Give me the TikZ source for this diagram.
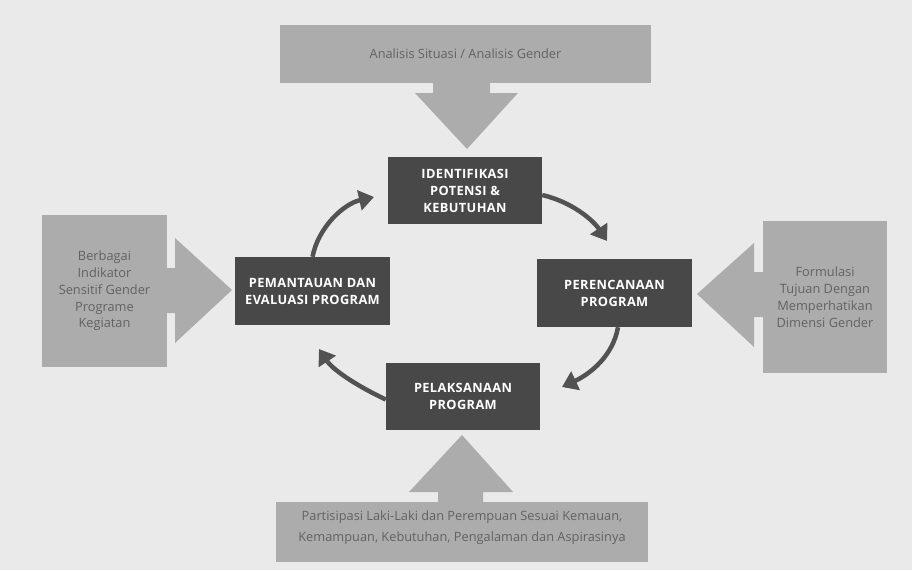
\documentclass[tikz,border=0pt]{standalone}
\usepackage{fontspec}
\setmainfont{Open Sans}
\newfontfamily\boxfont[LetterSpace=3]{Open Sans Bold}
\usetikzlibrary{arrows.meta}
\definecolor{bgc}{RGB}{234,234,234}
\definecolor{lgc}{RGB}{172,172,172}
\definecolor{dkc}{RGB}{72,72,72}
\definecolor{txc}{RGB}{98,98,98}
\definecolor{arc}{RGB}{82,82,82}
\tikzset{
  graybox/.style={fill=lgc, draw=none, text=txc, align=center, inner sep=0pt, font=\fontsize{12.8}{16.8}\selectfont},
  darkbox/.style={fill=dkc, draw=none, text=white, align=center, inner sep=0pt, font=\boxfont\fontsize{12.8}{17}\selectfont},
  blockarrow/.style={fill=lgc, draw=none},
  cyc/.style={draw=arc, line width=4.5pt, -{Triangle[width=20pt,length=15pt]}}
}
\begin{document}
\begin{tikzpicture}[x=1pt,y=-1pt]
\fill[bgc] (0,0) rectangle (912,570);
\useasboundingbox (0,0) rectangle (912,570);
% gray boxes
\node[graybox, minimum width=371pt, minimum height=58pt] (top) at (465.5,54) {Analisis Situasi / Analisis Gender};
\node[graybox, minimum width=125pt, minimum height=152pt] (left) at (104.5,291) {Berbagai\\Indikator\\Sensitif Gender\\Programe\\Kegiatan};
\node[graybox, minimum width=124pt, minimum height=152pt] (right) at (825,297) {Formulasi\\Tujuan Dengan\\Memperhatikan\\Dimensi Gender};
\node[graybox, minimum width=372pt, minimum height=60pt, font=\fontsize{12.8}{21}\selectfont] (bottom) at (462,532) {Partisipasi Laki-Laki dan Perempuan Sesuai Kemauan,\\Kemampuan, Kebutuhan, Pengalaman dan Aspirasinya\\[-10pt]};
% dark boxes
\node[darkbox, minimum width=154pt, minimum height=67pt] (iden) at (465,190.5) {IDENTIFIKASI\\POTENSI \&\\KEBUTUHAN};
\node[darkbox, minimum width=155pt, minimum height=68pt] (pem) at (312.5,291) {PEMANTAUAN DAN\\EVALUASI PROGRAM};
\node[darkbox, minimum width=155pt, minimum height=68pt] (per) at (614.5,293) {PERENCANAAN\\PROGRAM};
\node[darkbox, minimum width=154pt, minimum height=67pt] (pel) at (463,396.5) {PELAKSANAAN\\PROGRAM};
% block arrows
\fill[blockarrow] (top.south -| 433,0) -- (433,93) -- (415,93) -- (467,149) -- (518,93) -- (490,93) -- (top.south -| 490,0) -- cycle;
\fill[blockarrow] (bottom.north -| 438,0) -- (438,492) -- (409,492) -- (462,435) -- (513,492) -- (483,492) -- (bottom.north -| 483,0) -- cycle;
\fill[blockarrow] (left.east |- 0,268) -- (175,268) -- (175,238) -- (232,290) -- (175,343) -- (175,313) -- (left.east |- 0,313) -- cycle;
\fill[blockarrow] (right.west |- 0,272) -- (754,272) -- (754,243) -- (697,294) -- (754,347) -- (754,317) -- (right.west |- 0,317) -- cycle;
% cycle arrows
\coordinate (t1) at (374,197);
\coordinate (t2) at (607,241);
\coordinate (t3) at (562,387);
\coordinate (t4) at (319,349);
\draw[cyc] (pem.north) .. controls (318,228) and (343,204) .. (t1);
\draw[cyc] ([yshift=-4.5pt]iden.east) .. controls (572,202) and (593,220) .. (t2);
\draw[cyc] ([xshift=3.5pt]per.south) .. controls (613,356) and (590,374) .. (t3);
\draw[cyc] ([yshift=-3pt]pel.west) .. controls (357,386) and (333,370) .. (t4);
\end{tikzpicture}
\end{document}
